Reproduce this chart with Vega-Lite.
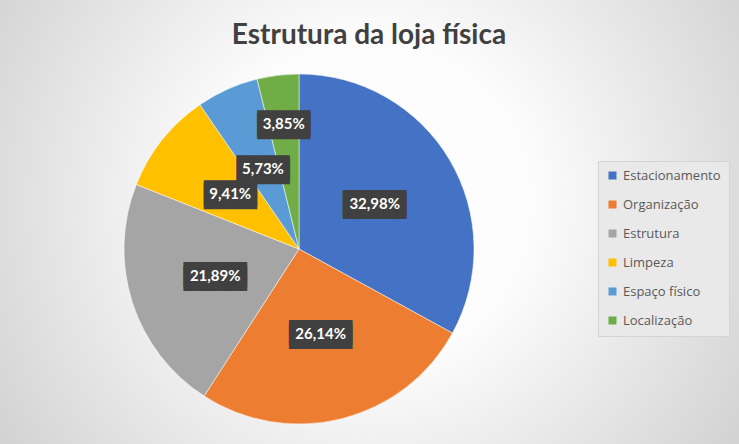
{
  "$schema": "https://vega.github.io/schema/vega-lite/v6.json",
  "width": 880,
  "height": 498,
  "autosize": {"type": "none"},
  "padding": {"left": -141, "top": 0, "right": 0, "bottom": -54},
  "background": "#cfcfcf",
  "title": {
    "text": "Estrutura da loja física",
    "anchor": "middle",
    "offset": -50,
    "dx": 70,
    "font": "Lato",
    "fontSize": 28,
    "fontWeight": "bold",
    "color": "#404040"
  },
  "config": {
    "view": {"stroke": null},
    "locale": {
      "number": {"decimal": ",", "thousands": ".", "grouping": [3], "currency": ["R$", ""]}
    }
  },
  "data": {
    "values": [
      {"categoria": "Estacionamento", "percent": 0.3298},
      {"categoria": "Organização", "percent": 0.2614},
      {"categoria": "Estrutura", "percent": 0.2189},
      {"categoria": "Limpeza", "percent": 0.0941},
      {"categoria": "Espaço físico", "percent": 0.0573},
      {"categoria": "Localização", "percent": 0.0385}
    ]
  },
  "layer": [
    {
      "data": {"values": [{}]},
      "mark": {
        "type": "rect",
        "fill": {
          "gradient": "radial",
          "x1": 0.58, "y1": 0.446, "r1": 0,
          "x2": 0.58, "y2": 0.446, "r2": 0.62,
          "stops": [
            {"offset": 0, "color": "#ffffff"},
            {"offset": 0.3, "color": "#fcfcfc"},
            {"offset": 1, "color": "#c2c2c2"}
          ]
        }
      },
      "encoding": {}
    },
    {
      "encoding": {
        "theta": {"field": "percent", "type": "quantitative", "stack": true},
        "order": {"field": "percent", "type": "quantitative", "sort": "descending"}
      },
      "layer": [
        {
          "mark": {"type": "arc", "outerRadius": 175, "stroke": "#ffffff", "strokeWidth": 0.5},
          "encoding": {
            "color": {
              "field": "categoria",
              "type": "nominal",
              "sort": ["Estacionamento", "Organização", "Estrutura", "Limpeza", "Espaço físico", "Localização"],
              "scale": {
                "domain": ["Estacionamento", "Organização", "Estrutura", "Limpeza", "Espaço físico", "Localização"],
                "range": ["#4472C4", "#ED7D31", "#A5A5A5", "#FFC000", "#5B9BD5", "#70AD47"]
              },
              "legend": {
                "title": null,
                "orient": "none",
                "legendX": 739,
                "legendY": 161,
                "symbolType": "square",
                "symbolSize": 64,
                "symbolStrokeWidth": 0,
                "labelFont": "Open Sans",
                "labelFontSize": 13,
                "labelColor": "#595959",
                "labelOffset": 4,
                "padding": 8,
                "rowPadding": 15,
                "fillColor": "#e9e9e9",
                "strokeColor": "#d4d4d4"
              }
            }
          }
        },
        {
          "mark": {"type": "text", "radius": 88, "font": "DejaVu Sans Mono", "fontSize": 21, "lineHeight": 4, "color": "#404040", "align": "center", "baseline": "middle"},
          "encoding": {
            "text": {"condition": {"test": "datum.percent >= 0.1", "value": ["█████", "█████"]}, "value": ""}
          }
        },
        {
          "mark": {"type": "text", "radius": 88, "font": "DejaVu Sans Mono", "fontSize": 22, "lineHeight": 3, "color": "#404040", "align": "center", "baseline": "middle"},
          "encoding": {
            "text": {"condition": {"test": "datum.percent >= 0.05 && datum.percent < 0.1", "value": ["████", "████"]}, "value": ""}
          }
        },
        {
          "mark": {"type": "text", "radius": 126, "font": "DejaVu Sans Mono", "fontSize": 22, "lineHeight": 3, "color": "#404040", "align": "center", "baseline": "middle"},
          "encoding": {
            "text": {"condition": {"test": "datum.percent < 0.05", "value": ["████", "████"]}, "value": ""}
          }
        },
        {
          "mark": {"type": "text", "radius": 88, "font": "Lato", "fontSize": 15, "fontWeight": "bold", "color": "#ffffff", "align": "center", "baseline": "middle"},
          "encoding": {
            "text": {"condition": {"test": "datum.percent < 0.05", "value": ""}, "field": "percent", "type": "quantitative", "format": ".2%"}
          }
        },
        {
          "mark": {"type": "text", "radius": 126, "font": "Lato", "fontSize": 15, "fontWeight": "bold", "color": "#ffffff", "align": "center", "baseline": "middle"},
          "encoding": {
            "text": {"condition": {"test": "datum.percent >= 0.05", "value": ""}, "field": "percent", "type": "quantitative", "format": ".2%"}
          }
        }
      ]
    }
  ]
}
